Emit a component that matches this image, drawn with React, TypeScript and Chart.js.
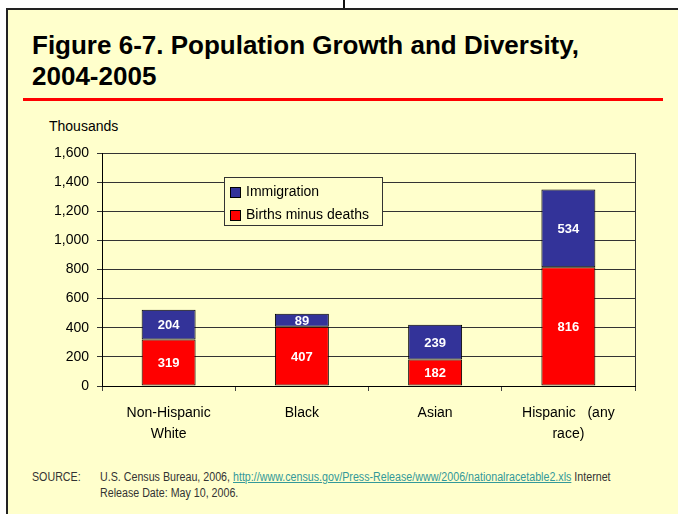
import React, { useEffect, useRef } from "react";
import { Chart, registerables } from "chart.js";

Chart.register(...registerables);

const categories: (string | string[])[] = [
  ["Non-Hispanic", "White"],
  ["Black"],
  ["Asian"],
  ["Hispanic   (any", "race)"],
];
const birthsMinusDeaths = [319, 407, 182, 816];
const immigration = [204, 89, 239, 534];
const yTicks = [0, 200, 400, 600, 800, 1000, 1200, 1400, 1600];

const FONT = "'Liberation Sans', Arial, Helvetica, sans-serif";
const BG = "#FFFFCC";

const labelsPlugin = {
  id: "barLabels",
  afterDatasetsDraw(chart: any) {
    const ctx = chart.ctx;
    ctx.save();
    ctx.font = `bold 13px ${FONT}`;
    ctx.fillStyle = "#FFFFFF";
    ctx.textAlign = "center";
    ctx.textBaseline = "middle";
    chart.data.datasets.forEach((ds: any, di: number) => {
      const meta = chart.getDatasetMeta(di);
      meta.data.forEach((el: any, i: number) => {
        const v = ds.data[i];
        const cy = (el.y + el.base) / 2;
        ctx.fillText(String(v), el.x, cy + 1);
      });
    });
    ctx.restore();
  },
};

const framePlugin = {
  id: "frameAndLegend",
  afterDraw(chart: any) {
    const ctx = chart.ctx;
    const a = chart.chartArea;
    ctx.save();
    ctx.strokeStyle = "#333";
    ctx.lineWidth = 1;
    ctx.beginPath();
    ctx.moveTo(Math.round(a.right) + 0.5, a.top);
    ctx.lineTo(Math.round(a.right) + 0.5, a.bottom);
    ctx.stroke();

    const bx = a.left + 122;
    const by = a.top + 24;
    const bw = 158;
    const bh = 48;
    ctx.fillStyle = BG;
    ctx.fillRect(bx, by, bw, bh);
    ctx.strokeStyle = "#333";
    ctx.strokeRect(bx + 0.5, by + 0.5, bw, bh);
    const items = chart.data.datasets.slice().reverse();
    ctx.font = `14px ${FONT}`;
    ctx.textBaseline = "middle";
    ctx.textAlign = "left";
    items.forEach((ds: any, i: number) => {
      const cy = by + 15 + i * 23;
      ctx.fillStyle = ds.backgroundColor;
      ctx.fillRect(bx + 6, cy - 5, 10, 10);
      ctx.strokeStyle = "#000";
      ctx.strokeRect(bx + 6.5, cy - 4.5, 10, 10);
      ctx.fillStyle = "#000";
      ctx.fillText(ds.label, bx + 22, cy);
    });
    ctx.restore();
  },
};

function ChartBox() {
  const ref = useRef<HTMLCanvasElement | null>(null);
  useEffect(() => {
    if (!ref.current) return;
    Chart.defaults.font.family = FONT;
    const chart = new Chart(ref.current, {
      type: "bar",
      data: {
        labels: categories,
        datasets: [
          {
            label: "Births minus deaths",
            data: birthsMinusDeaths,
            backgroundColor: "#FF0000",
            borderColor: "#000",
            borderWidth: 1,
            borderSkipped: false,
            categoryPercentage: 1,
            barPercentage: 0.405,
          },
          {
            label: "Immigration",
            data: immigration,
            backgroundColor: "#333399",
            borderColor: "#000",
            borderWidth: 1,
            borderSkipped: false,
            categoryPercentage: 1,
            barPercentage: 0.405,
          },
        ],
      },
      options: {
        animation: false,
        responsive: true,
        maintainAspectRatio: false,
        layout: { padding: { top: 43, right: 43, left: 0, bottom: 0 } },
        plugins: { legend: { display: false }, tooltip: { enabled: false } },
        scales: {
          x: {
            stacked: true,
            grid: { drawOnChartArea: false, drawTicks: true, tickLength: 5, color: "#444" },
            border: { display: true, color: "#000" },
            ticks: { color: "#000", font: { size: 14, lineHeight: 1.55 }, padding: 11, maxRotation: 0, autoSkip: false },
            afterFit: (s: any) => { s.height = 74; },
          },
          y: {
            stacked: true,
            min: 0,
            max: 1600,
            afterBuildTicks: (s: any) => { s.ticks = yTicks.map((v) => ({ value: v })); },
            grid: { color: "#333", tickLength: 5, drawTicks: true },
            border: { display: true, color: "#000" },
            ticks: {
              color: "#000",
              font: { size: 14 },
              padding: 8,
              callback: (v: any) => Number(v).toLocaleString("en-US"),
            },
            afterFit: (s: any) => { s.width = 102; },
          },
        },
      },
      plugins: [labelsPlugin, framePlugin],
    });
    return () => chart.destroy();
  }, []);
  return (
    <div style={{ position: "absolute", left: 0, top: 110, width: 678, height: 350 }}>
      <canvas ref={ref} />
    </div>
  );
}

const sourceStyle: React.CSSProperties = {
  position: "absolute",
  top: 469,
  fontSize: 12,
  lineHeight: "16px",
  color: "#333",
  whiteSpace: "nowrap",
  transform: "scaleX(0.89)",
  transformOrigin: "left top",
};

export default function App() {
  return (
    <div
      style={{
        position: "absolute",
        left: 0,
        top: 0,
        width: 678,
        height: 514,
        overflow: "hidden",
        background: "#fff",
        fontFamily: FONT,
      }}
    >
      <div style={{ position: "absolute", left: 343, top: 0, width: 2, height: 9, background: "#111" }} />
      <div
        style={{
          position: "absolute",
          left: 6,
          top: 8,
          width: 720,
          height: 540,
          border: "2px solid #222",
          background: BG,
        }}
      />
      <div
        style={{
          position: "absolute",
          left: 32,
          top: 30,
          fontWeight: "bold",
          fontSize: 26,
          lineHeight: "31px",
          color: "#000",
          whiteSpace: "nowrap",
        }}
      >
        Figure 6-7. Population Growth and Diversity,
        <br />
        2004-2005
      </div>
      <div style={{ position: "absolute", left: 23, top: 98, width: 640, height: 3, background: "#FF0000" }} />
      <div style={{ position: "absolute", left: 49, top: 118, fontSize: 14, lineHeight: "16px", color: "#000" }}>
        Thousands
      </div>
      <ChartBox />
      <div style={{ ...sourceStyle, left: 32 }}>SOURCE:</div>
      <div style={{ ...sourceStyle, left: 100 }}>
        U.S. Census Bureau, 2006,{" "}
        <span style={{ color: "#339999", textDecoration: "underline" }}>
          http://www.census.gov/Press-Release/www/2006/nationalracetable2.xls
        </span>{" "}
        Internet
        <br />
        Release Date: May 10, 2006.
      </div>
    </div>
  );
}
